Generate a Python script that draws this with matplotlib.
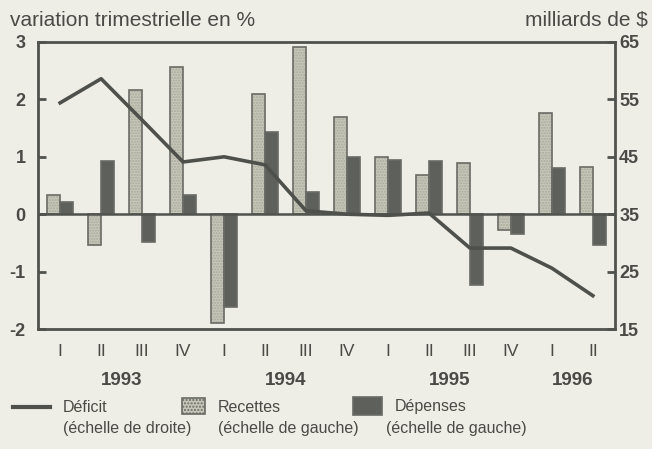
import matplotlib
matplotlib.use("Agg")
import matplotlib.pyplot as plt
from matplotlib.patches import Rectangle
from matplotlib.lines import Line2D
import numpy as np

quarters = ["I", "II", "III", "IV", "I", "II", "III", "IV", "I", "II", "III", "IV", "I", "II"]
years = ["1993", "1994", "1995", "1996"]
recettes = [0.33, -0.54, 2.17, 2.57, -1.89, 2.10, 2.92, 1.70, 1.00, 0.68, 0.89, -0.28, 1.77, 0.82]
depenses = [0.21, 0.93, -0.49, 0.33, -1.61, 1.43, 0.39, 1.00, 0.94, 0.93, -1.24, -0.35, 0.80, -0.53]
deficit = [54.4, 58.6, 51.4, 44.1, 45.0, 43.6, 35.6, 35.0, 34.8, 35.2, 29.1, 29.1, 25.6, 20.8]

bg = "#efeee6"
txt = "#4a4a47"
dark = "#5e605b"
light = "#c6c7b9"
edge = "#6a6b66"

plt.rcParams["font.family"] = ["Liberation Sans", "DejaVu Sans"]

fig = plt.figure(figsize=(6.52, 4.49), dpi=100, facecolor=bg)
ax = fig.add_axes([38/652, 1-329/449, (615-38)/652, (329-42)/449])
ax.set_facecolor(bg)
x = np.arange(len(quarters))
w = 0.32

ax.bar(x - w/2, recettes, w, color=light, edgecolor="#a9aa9c", hatch="......", linewidth=0, zorder=2)
ax.bar(x - w/2, recettes, w, fill=False, edgecolor=edge, linewidth=1.2, zorder=3)
ax.bar(x + w/2, depenses, w, color=dark, edgecolor=edge, linewidth=1.2, zorder=3)
ax.axhline(0, color="#4f524d", lw=1.8, zorder=4)

ax.set_xlim(-0.54, 13.54)
ax.set_ylim(-2, 3)
ax.set_yticks([-2, -1, 0, 1, 2, 3])
ax.set_yticklabels(["-2", "-1", "0", "1", "2", "3"])
ax.tick_params(axis="y", direction="in", length=6, width=2, color="#4f524d",
               labelsize=13, labelcolor=txt, pad=9)
for t in ax.get_yticklabels():
    t.set_fontweight("bold")
ax.set_xticks(x)
ax.set_xticklabels(quarters)
ax.tick_params(axis="x", length=0, labelsize=12.5, labelcolor=txt, pad=11)
for s in ax.spines.values():
    s.set_color("#4f524d")
    s.set_linewidth(2)

ax2 = ax.twinx()
ax2.set_ylim(15, 65)
ax2.set_yticks([15, 25, 35, 45, 55, 65])
ax2.tick_params(axis="y", direction="in", length=6, width=2, color="#4f524d",
                labelsize=13, labelcolor=txt, pad=3)
for t in ax2.get_yticklabels():
    t.set_fontweight("bold")
for s in ax2.spines.values():
    s.set_visible(False)
ax2.plot(x, deficit, color="#4d504b", lw=2.6, zorder=5)
ax.set_zorder(1)
ax2.set_zorder(2)
ax2.patch.set_visible(False)

for i, yr in enumerate(years):
    xc = 4*i + 1.5 if i < 3 else 12.5
    ax.text(xc, -0.178, yr, transform=ax.get_xaxis_transform(), ha="center", va="center",
            fontsize=13.5, fontweight="bold", color=txt)

fig.text(10/652, 1-20/449, "variation trimestrielle en %", fontsize=15, color=txt, va="center", ha="left")
fig.text(648/652, 1-20/449, "milliards de $", fontsize=15, color=txt, va="center", ha="right")

# legend
fig.add_artist(Line2D([13/652, 50/652], [1-407/449, 1-407/449], color="#4d504b", lw=3))
fig.add_artist(Rectangle((182/652, 1-414/449), 23/652, 16/449, facecolor=light, edgecolor=edge, lw=1.2, hatch="....."))
fig.add_artist(Rectangle((353/652, 1-415/449), 29/652, 18/449, facecolor=dark, edgecolor=edge, lw=1.2))
leg = [(63, "Déficit"), (218, "Recettes"), (395, "Dépenses")]
for xp, a in leg:
    fig.text(xp/652, 1-407/449, a, fontsize=11.5, color=txt, va="center", ha="left")
for xp, b in [(63, "(échelle de droite)"), (218, "(échelle de gauche)"), (386, "(échelle de gauche)")]:
    fig.text(xp/652, 1-429/449, b, fontsize=11.5, color=txt, va="center", ha="left")

fig.savefig("out.png", dpi=100, facecolor=bg)
